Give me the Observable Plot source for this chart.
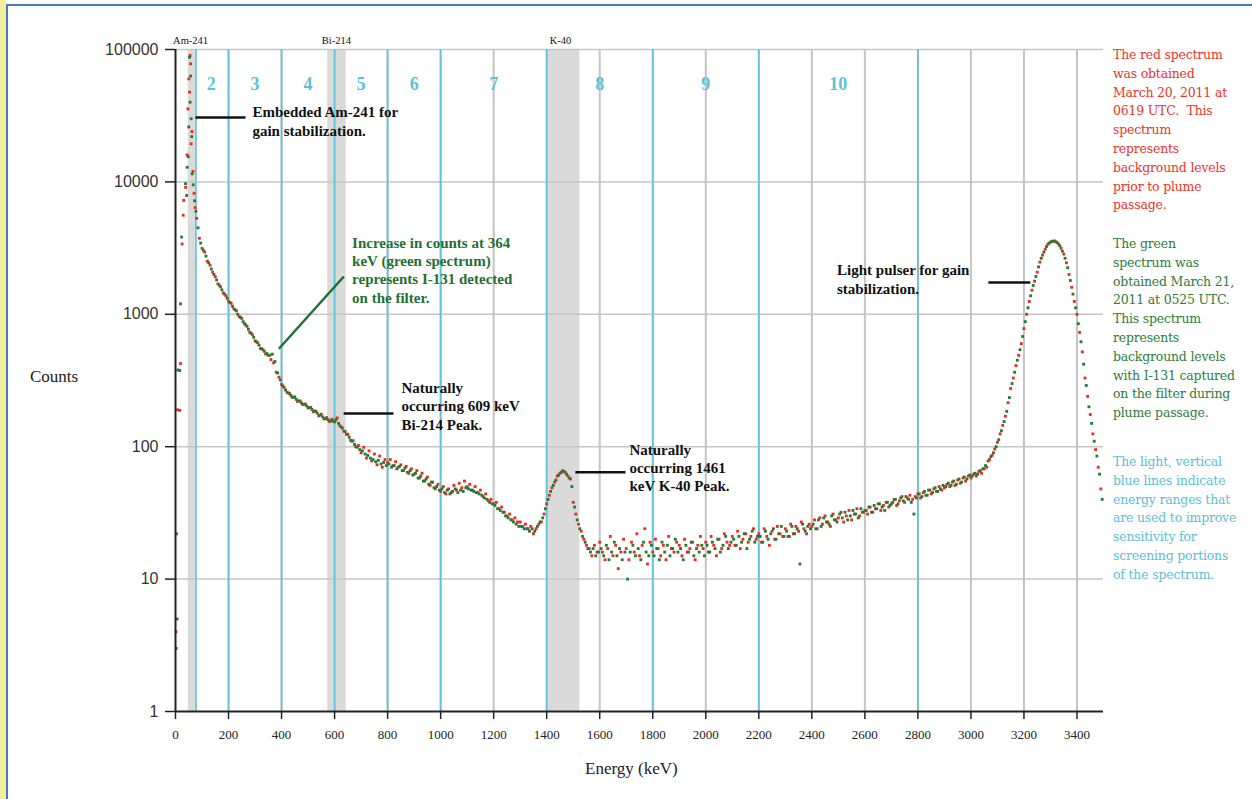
<!DOCTYPE html>
<html><head><meta charset="utf-8">
<script src="https://cdn.jsdelivr.net/npm/d3@7"></script>
<script src="https://cdn.jsdelivr.net/npm/@observablehq/plot@0.6"></script>
<style>
html,body{margin:0;padding:0;background:#fff;}
#page{position:relative;width:1252px;height:799px;overflow:hidden;background:#fff;}
#ystrip{position:absolute;left:0;top:0;width:6px;height:799px;background:#f3ee9e;}
#frame{position:absolute;left:6px;top:4px;width:1250px;height:800px;border-top:2px solid #4a78bd;border-left:2px solid #4a78bd;}
#chart{position:absolute;left:0;top:0;}
.note{position:absolute;left:1113px;font-family:"DejaVu Serif",serif;font-size:12.5px;line-height:18.8px;white-space:nowrap;letter-spacing:-0.2px;}
.axlab{position:absolute;font-family:"Liberation Serif",serif;font-size:17px;color:#222;white-space:nowrap;}
</style>
</head><body>
<div id="page">
  <div id="ystrip"></div>
  <div id="frame"></div>
  <div id="chart"></div>
  <div class="axlab" style="left:30px;top:367px;">Counts</div>
  <div class="axlab" style="left:585px;top:759px;">Energy (keV)</div>
  <div class="note" style="top:46px;color:#ee3328;">The red spectrum<br>was obtained<br>March 20, 2011 at<br>0619 UTC.&nbsp; This<br>spectrum<br>represents<br>background levels<br>prior to plume<br>passage.</div>
  <div class="note" style="top:235px;color:#2f7d3a;">The green<br>spectrum was<br>obtained March 21,<br>2011 at 0525 UTC.<br>This spectrum<br>represents<br>background levels<br>with I-131 captured<br>on the filter during<br>plume passage.</div>
  <div class="note" style="top:453px;color:#5bbfd4;">The light, vertical<br>blue lines indicate<br>energy ranges that<br>are used to improve<br>sensitivity for<br>screening portions<br>of the spectrum.</div>
</div>
<script>
// ---- Data ----
const xTicks = [0,200,400,600,800,1000,1200,1400,1600,1800,2000,2200,2400,2600,2800,3000,3200,3400];
const yTicks = [1,10,100,1000,10000,100000];
const grayGrid = [200,400,600,800,1000,1200,1400,1600,1800,2000,2200,2400,2600,2800,3000,3200,3400];
const blueLines = [77,200,400,600,800,1000,1400,1800,2200,2800];
const regionNames = ["2","3","4","5","6","7","8","9","10"];
const regionCenters = [135,300,500,700,900,1200,1600,2000,2500];
const isotopeNames = ["Am-241","Bi-214","K-40"];
const bandStart = [48,574,1405];
const bandEnd = [75,644,1525];
const isotopeCenters = [57,607,1452];

// Red spectrum (March 20, 2011) – low-energy scatter
const redLowE = [2,4,8,16,19,25,29,31,38,44,47,50,53,55,57,59,62,66,70,74];
const redLowV = [4,22,190,188,425,3400,5600,7250,9100,16000,35600,60000,47600,90000,78000,19400,24000,12000,8200,6400];
// Red spectrum, 80–3490 keV every 10 keV
const redEnergy = d3.range(80, 3500, 10);
const redCounts = [
5300,3750,
3150,2950,2520,2350,2080,1920,1700,1610,1450,1380,
1250,1210,1100,1060,960,930,850,810,730,700,
630,610,550,540,500,490,455,430,365,335,
295,280,258,252,236,238,220,221,208,210,
196,198,184,185,171,176,162,166,155,161,
154,165,144,138,130,124,112,111,100,102,
90,99,82,93,78,88,73,85,70,80,
76,80,72,77,70,73,66,71,63,68,
62,66,58,63,55,59,51,54,48,52,
46,50,44,48,45,51,47,53,49,55,
50,52,47,50,45,47,42,44,39,40,
37,38,34,35,32,30,31,28,29,27,
27,25,26,24,25,22,24,26,27,31,
37,43,49,54,60,63,66,64,60,57,
38,31,26,23,20,18,17,15,18,16,
19,16,14,17,21,15,18,12,16,20,
17,14,19,16,22,15,18,24,13,19,
16,20,17,15,18,14,21,17,16,19,
18,15,20,16,17,19,14,18,21,17,
19,16,21,18,15,20,17,22,19,18,
21,18,23,17,20,22,19,21,24,20,
22,19,24,21,18,23,20,25,22,21,
24,21,26,22,25,23,27,24,22,26,
25,28,24,29,26,30,27,25,31,28,
29,32,27,30,33,28,31,34,30,32,
33,31,35,32,34,37,33,36,38,35,
37,40,36,39,42,38,41,43,40,42,
44,41,45,43,47,44,48,46,50,47,
49,52,50,54,51,56,53,58,55,60,
58,62,60,65,63,68,70,80,86,96,
108,125,145,170,215,275,330,410,490,600,
780,1000,1250,1520,1780,2080,2480,2800,3100,3380,
3500,3560,3530,3400,3150,2850,2450,2000,1600,1250,
1000,730,520,330,240,175,125,95,70,48
];

// Green spectrum (March 21, 2011) – low-energy scatter
const greenLowE = [3,6,9,16,19,23,38,42,44,48,50,53,55,57,59,61,63,67,72,77];
const greenLowV = [3,5,380,376,1200,3830,9700,7900,12900,15500,26000,87500,40000,63000,30000,22000,11500,9500,7200,6000];
// Green spectrum, 85–3495 keV every 10 keV
const greenEnergy = d3.range(85, 3500, 10);
const greenCounts = [
4500,3450,
3050,2750,2450,2200,2000,1820,1660,1530,1420,1320,
1230,1150,1080,1000,950,880,830,770,720,670,
620,585,550,525,505,490,500,440,360,320,
288,268,255,244,236,228,222,214,209,203,
197,191,186,179,173,168,163,160,157,156,
159,150,141,131,124,118,110,104,99,95,
93,88,86,82,80,77,79,74,76,72,
74,70,72,68,71,66,69,64,66,61,
63,58,60,55,57,52,54,49,50,47,
48,45,47,44,46,48,45,47,46,49,
48,47,46,45,44,43,41,40,38,37,
36,34,33,32,30,29,28,27,26,25,
25,24,24,23,24,23,25,27,29,34,
40,46,51,56,61,64,65,62,58,50,
35,28,24,21,19,17,16,17,15,16,
17,15,18,14,16,19,15,17,14,16,
10,16,18,15,17,14,19,16,15,18,
15,17,14,19,16,18,15,17,20,16,
17,14,18,16,19,15,17,16,18,15,
18,16,19,17,20,16,18,21,17,19,
20,18,21,19,22,17,20,23,19,21,
21,19,23,20,22,24,20,22,25,21,
23,21,25,22,24,13,26,23,25,24,
26,24,28,25,29,27,26,30,28,27,
31,29,32,28,30,33,31,29,34,32,
33,35,32,36,34,37,35,33,38,36,
38,40,37,41,39,42,40,38,31,41,
44,42,46,43,47,45,49,46,48,51,
50,53,51,55,52,57,54,59,57,61,
60,63,62,66,68,72,78,84,90,100,
113,132,155,185,235,300,365,450,540,680,
880,1120,1380,1650,1930,2280,2650,2950,3250,3450,
3560,3580,3480,3300,3000,2650,2250,1800,1420,1120,
850,620,420,290,200,150,110,85,62,40
];

// Annotations (data coordinates: energy keV, counts)
const annotText = [
  "Embedded Am-241 for\ngain stabilization.",
  "Increase in counts at 364\nkeV (green spectrum)\nrepresents I-131 detected\non the filter.",
  "Naturally\noccurring 609 keV\nBi-214 Peak.",
  "Naturally\noccurring 1461\nkeV K-40 Peak.",
  "Light pulser for gain\nstabilization."
];
const annotE = [290, 666, 852, 1712, 2495];
const annotC = [29000, 2180, 205, 70, 1860];
const annotColor = ["#111","#1f7030","#111","#111","#111"];
const leaderE1 = [75, 635, 634, 1508, 3066];
const leaderC1 = [30600, 1930, 178, 64, 1740];
const leaderE2 = [264, 390, 822, 1697, 3224];
const leaderC2 = [30600, 549, 178, 64, 1740];

// ---- Build tables ----
const red = redLowE.map((e,i)=>({e, c: redLowV[i]})).concat(redEnergy.map((e,i)=>({e, c: redCounts[i]})));
const green = greenLowE.map((e,i)=>({e, c: greenLowV[i]})).concat(greenEnergy.map((e,i)=>({e, c: greenCounts[i]})));
const bands = isotopeNames.map((n,i)=>({n, s: bandStart[i], t: bandEnd[i], m: isotopeCenters[i]}));
const regions = regionNames.map((n,i)=>({n, x: regionCenters[i]}));
const annots = annotText.map((t,i)=>({t, x: annotE[i], y: annotC[i], col: annotColor[i]}));
const leaders = annotText.map((t,i)=>({x1: leaderE1[i], y1: leaderC1[i], x2: leaderE2[i], y2: leaderC2[i], col: annotColor[i]}));

const serif = "Liberation Serif, Times New Roman, serif";

const chart = Plot.plot({
  width: 1110, height: 760,
  marginLeft: 175, marginRight: 7, marginTop: 49, marginBottom: 49,
  style: {background: "transparent", overflow: "visible"},
  x: {domain: [0, 3500]},
  y: {type: "log", domain: [1, 100000]},
  marks: [
    Plot.rect(bands, {x1: "s", x2: "t", fill: "#d6d6d6", fillOpacity: 0.9}),
    Plot.ruleX(grayGrid, {stroke: "#c4c4c4", strokeWidth: 2}),
    Plot.ruleY(yTicks.slice(1), {stroke: "#c6c6c6", strokeWidth: 1.5}),
    Plot.ruleX(blueLines, {stroke: "#5fc5da", strokeWidth: 1.7}),
    Plot.text(regions, {x: "x", text: "n", frameAnchor: "top", dy: 28, fill: "#5ac3d8", fontSize: 18, fontWeight: "bold", fontFamily: serif}),
    Plot.text(bands, {x: "m", text: "n", frameAnchor: "top", dy: -13, fill: "#111", fontSize: 10.5, fontFamily: serif}),
    Plot.dot(red, {x: "e", y: "c", symbol: "square", r: 1.6, fill: "#ec2a1e", stroke: "none"}),
    Plot.dot(green, {x: "e", y: "c", symbol: "square", r: 1.6, fill: "#237a34", stroke: "none"}),
    Plot.link(leaders, {x1: "x1", y1: "y1", x2: "x2", y2: "y2", stroke: "col", strokeWidth: 2.5}),
    Plot.text(annots, {x: "x", y: "y", text: "t", fill: "col", textAnchor: "start", lineAnchor: "middle", lineHeight: 1.22, fontSize: 15, fontWeight: "bold", fontFamily: serif}),
    Plot.ruleX([0], {stroke: "#222", strokeWidth: 2}),
    Plot.ruleY([1], {stroke: "#222", strokeWidth: 2}),
    Plot.axisX(xTicks, {tickSize: 8, tickPadding: 10, tickFormat: d => String(d), fontSize: 13, fontFamily: serif, fill: "#222", stroke: "#222", strokeWidth: 1.5, label: null}),
    Plot.axisY(yTicks, {tickSize: 10, tickPadding: 7, tickFormat: d => String(d), fontSize: 16, fontFamily: "Liberation Sans, Arial, sans-serif", fill: "#333", stroke: "#222", strokeWidth: 1.5, label: null})
  ]
});
document.getElementById("chart").appendChild(chart);
</script>
</body></html>
